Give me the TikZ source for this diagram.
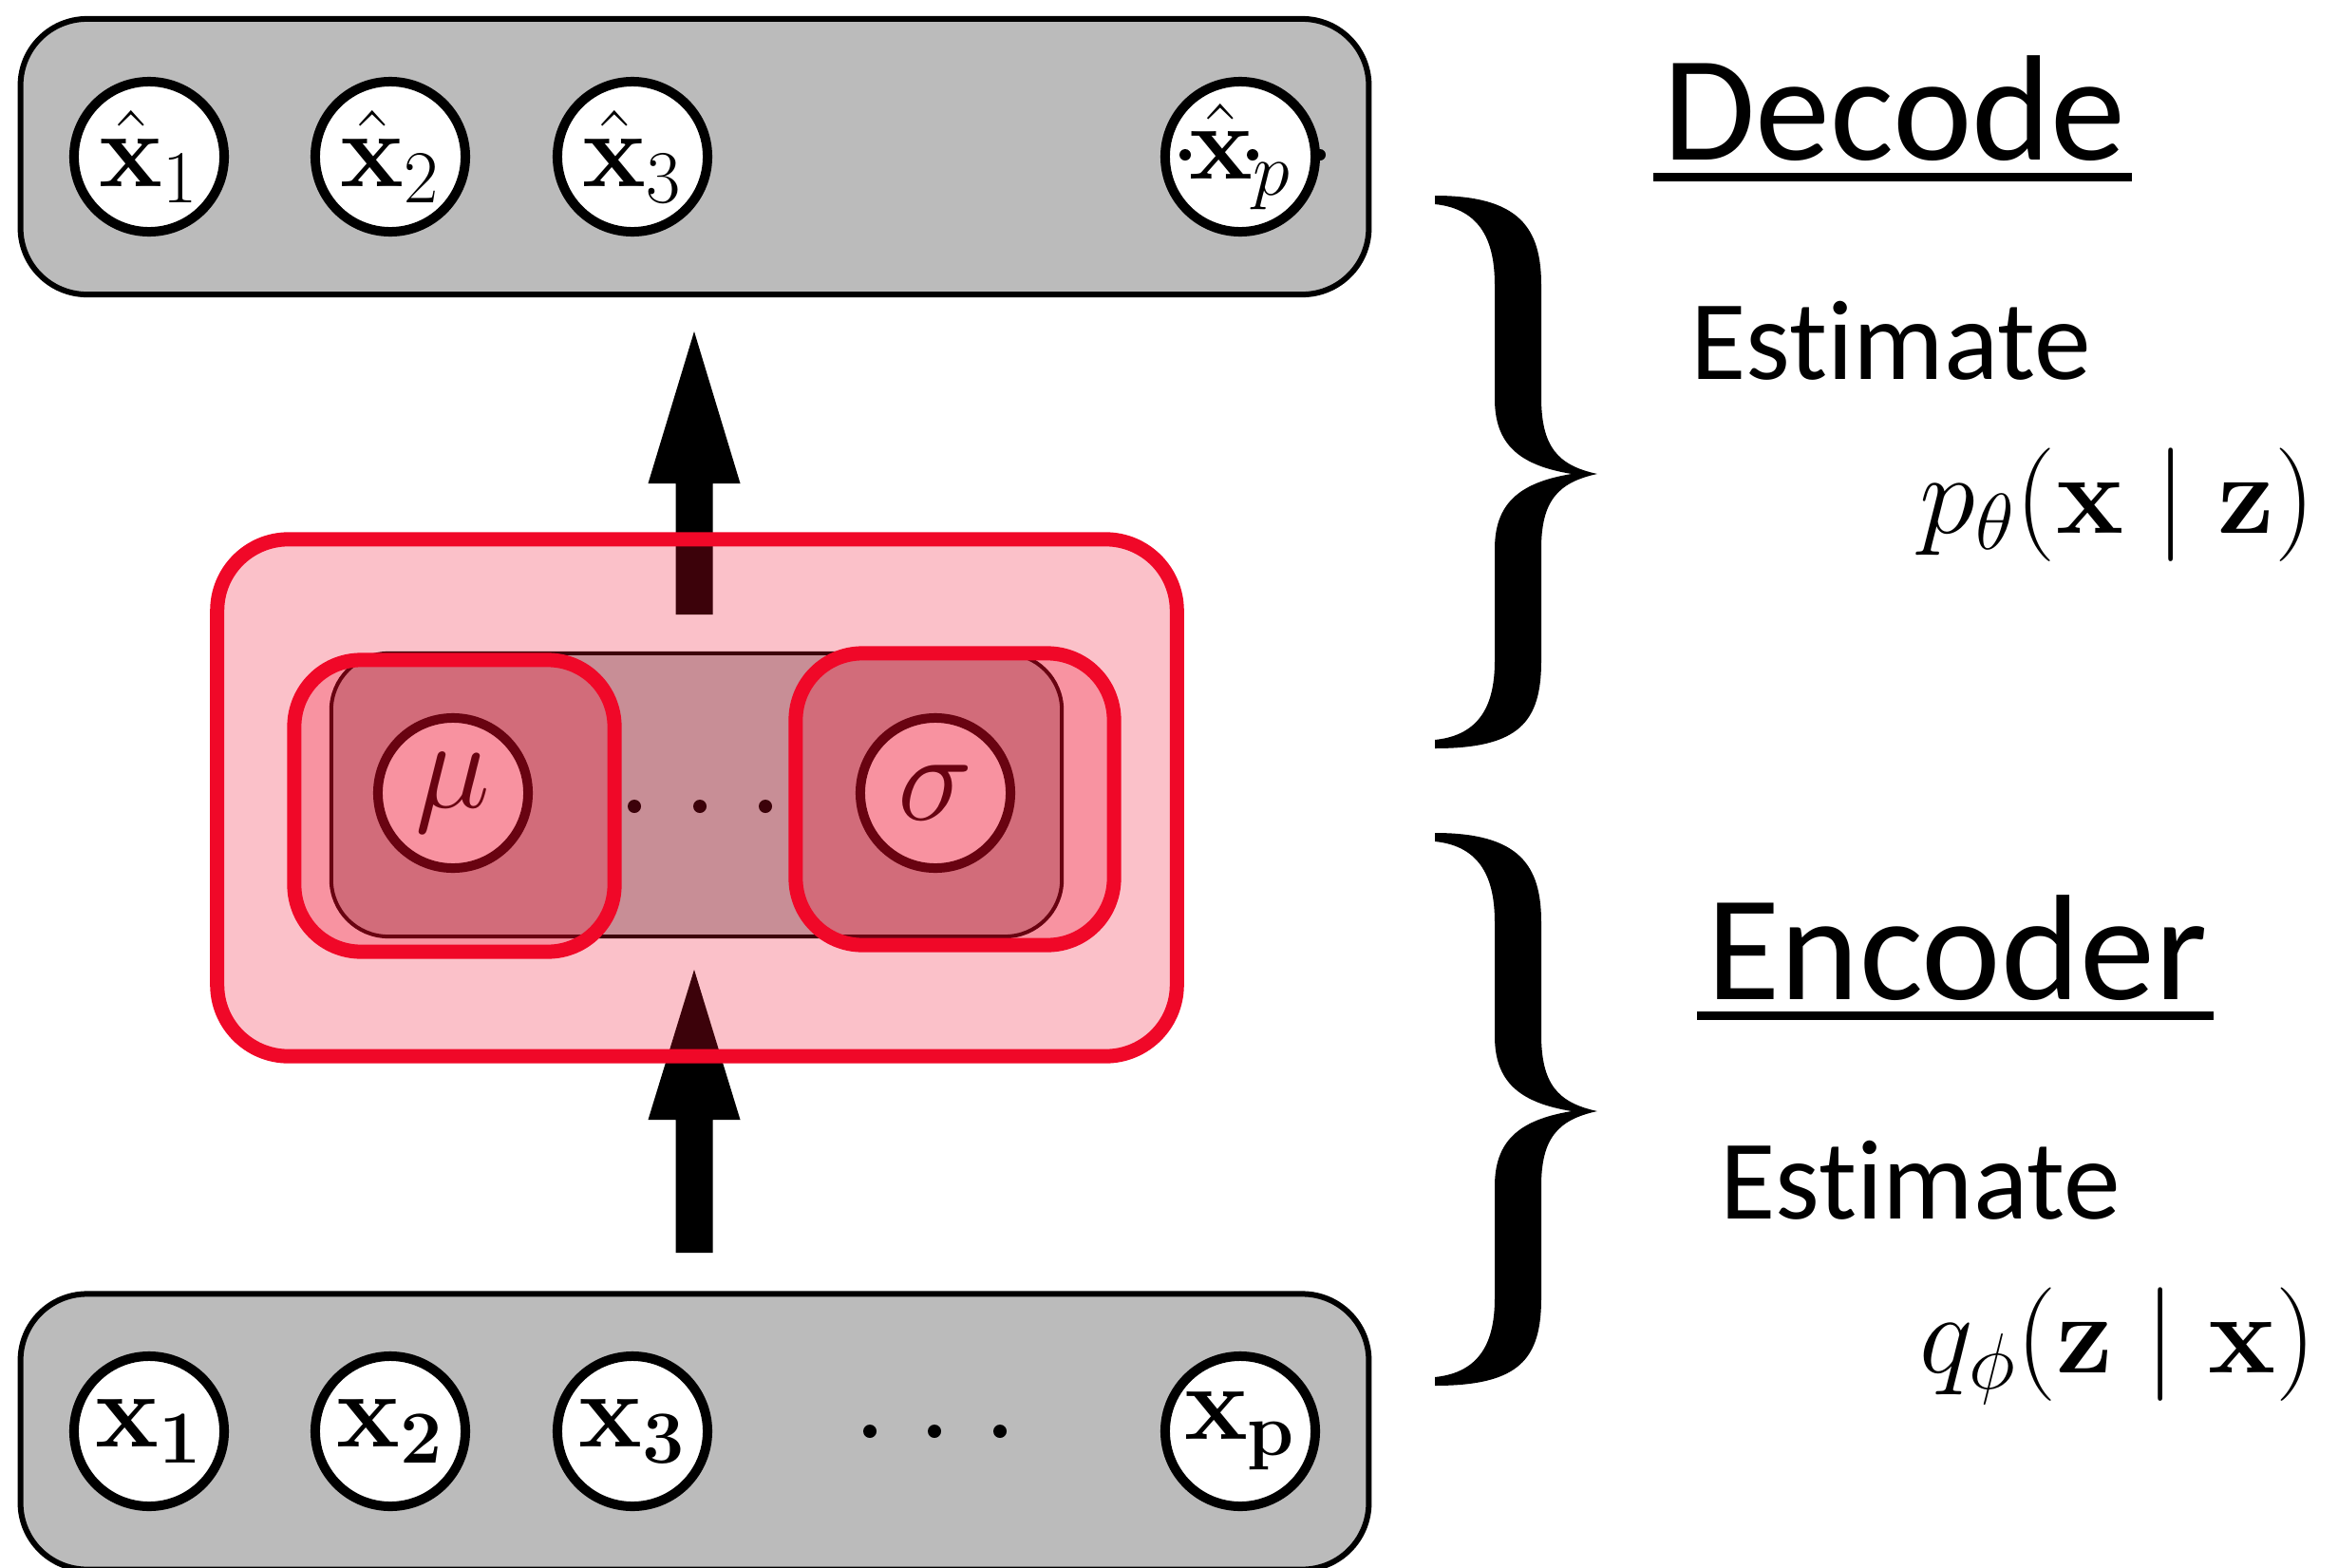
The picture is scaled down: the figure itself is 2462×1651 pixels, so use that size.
\RequirePackage{fix-cm}
\documentclass[tikz,border=0pt]{standalone}
\usepackage[no-math]{fontspec}
\setmainfont{Carlito}[Ligatures={NoCommon,NoRequired,NoContextual}]
\usetikzlibrary{calc}
\definecolor{boxgray}{RGB}{187,187,187}
\definecolor{vred}{RGB}{240,8,40}
\begin{document}
\begin{tikzpicture}[x=0.01cm,y=-0.01cm,
  graybox/.style={draw=black, fill=boxgray, line width=0.06cm, rounded corners=0.7cm, inner sep=0pt},
  unit/.style={circle, draw=black, fill=white, line width=0.1cm, minimum size=1.58cm, inner sep=0pt, font=\fontsize{32}{38}\selectfont},
  latent/.style={circle, draw=black, fill=white, line width=0.1cm, minimum size=1.58cm, inner sep=0pt, font=\fontsize{38}{44}\selectfont},
  redbox/.style={draw=vred, line width=0.15cm, fill=vred, fill opacity=0.25, draw opacity=1, inner sep=0pt},
  dotn/.style={circle, fill=black, inner sep=0pt, minimum size=0.14cm},
  bigtitle/.style={anchor=base, inner sep=0pt, font=\fontsize{45}{54}\selectfont},
  esttext/.style={anchor=base, inner sep=0pt, font=\fontsize{34}{40}\selectfont},
  mathtext/.style={anchor=base, inner sep=0pt, font=\fontsize{34}{40}\selectfont},
  bigbrace/.pic={
    \fill (0,0) .. controls (89,0) and (112,34) .. (112,94) -- (112,212)
      .. controls (112,264) and (129,284) .. (171,293)
      .. controls (129,302) and (112,322) .. (112,372) -- (112,490)
      .. controls (112,554) and (89,582) .. (0,582) -- (0,573)
      .. controls (49,568) and (63,534) .. (63,490) -- (63,372)
      .. controls (63,324) and (89,302) .. (144,293)
      .. controls (89,284) and (63,262) .. (63,214) -- (63,94)
      .. controls (63,49) and (49,14) .. (0,9) -- cycle;
  }
]
\useasboundingbox (0,0) rectangle (2462,1651);

% decoder output layer
\node[graybox, minimum width=14.19cm, minimum height=2.90cm] (dec) at (731.5,165) {};
\node[unit] (o1) at (157,165) {$\hat{\mathbf{x}}_1$};
\node[unit] (o2) at (411,165) {$\hat{\mathbf{x}}_2$};
\node[unit] (o3) at (666,165) {$\hat{\mathbf{x}}_3$};
\node[unit] (op) at (1306,165) {$\hat{\mathbf{x}}_p$};
\node[dotn, minimum size=0.12cm] (od1) at (1248,163) {};
\node[dotn, minimum size=0.12cm] (od2) at (1319,163) {};
\node[dotn, minimum size=0.12cm] (od3) at (1390,163) {};

% encoder input layer
\node[graybox, minimum width=14.19cm, minimum height=2.90cm] (enc) at (731.5,1507.5) {};
\node[unit] (i1) at (157,1507) {$\mathbf{x_1}$};
\node[unit] (i2) at (411,1507) {$\mathbf{x_2}$};
\node[unit] (i3) at (666,1507) {$\mathbf{x_3}$};
\node[unit] (ip) at (1306,1507) {$\mathbf{x_p}$};
\node[dotn] (id1) at (916,1507) {};
\node[dotn] (id2) at (984,1507) {};
\node[dotn] (id3) at (1053,1507) {};

% block arrows
\coordinate (a1s) at (731,647);
\coordinate (a1t) at (731,349);
\coordinate (a2s) at (731,1319);
\coordinate (a2t) at (731,1021);
\fill ($(a1s)+(-19.5,0)$) -- ($(a1t)+(-19.5,160)$) -- ($(a1t)+(-48.5,160)$) -- (a1t)
  -- ($(a1t)+(48.5,160)$) -- ($(a1t)+(19.5,160)$) -- ($(a1s)+(19.5,0)$) -- cycle;
\fill ($(a2s)+(-19.5,0)$) -- ($(a2t)+(-19.5,158)$) -- ($(a2t)+(-48.5,158)$) -- (a2t)
  -- ($(a2t)+(48.5,158)$) -- ($(a2t)+(19.5,158)$) -- ($(a2s)+(19.5,0)$) -- cycle;

% latent layer
\node[graybox, line width=0.04cm, rounded corners=0.6cm, minimum width=7.69cm, minimum height=2.98cm] (lat) at (733.5,837) {};
\node[latent] (mu) at (477,835) {$\mu$};
\node[latent] (sig) at (985,835) {$\sigma$};
\node[dotn] (ld1) at (668,849) {};
\node[dotn] (ld2) at (737,849) {};
\node[dotn] (ld3) at (806,849) {};

% translucent red overlays
\node[redbox, rounded corners=0.75cm, minimum width=10.10cm, minimum height=5.44cm] (zbox) at (734,840) {};
\node[redbox, rounded corners=0.7cm, minimum width=3.37cm, minimum height=3.07cm] (mubox) at (478.5,848.5) {};
\node[redbox, rounded corners=0.7cm, minimum width=3.35cm, minimum height=3.07cm] (sigbox) at (1005.5,841.5) {};

% braces
\pic at (1511,206) {bigbrace};
\pic at (1511,877) {bigbrace};

% right-hand texts
\node[bigtitle] (tdec) at (1995,168) {Decode};
\draw[line width=0.09cm] ($(tdec.base west)+(-10,18)$) -- ($(tdec.base east)+(6,18)$);
\node[esttext] (est1) at (1991,399) {Estimate};
\node[mathtext] (pt) at (2230,561) {$p_{\theta}(\mathbf{x}\mid\mathbf{z})$};

\node[bigtitle] (tenc) at (2061,1052) {Encoder};
\draw[line width=0.09cm] ($(tenc.base west)+(-10,17)$) -- ($(tenc.base east)+(6,17)$);
\node[esttext] (est2) at (2022,1283) {Estimate};
\node[mathtext] (qp) at (2230,1445) {$q_{\phi}(\mathbf{z}\mid\mathbf{x})$};
\end{tikzpicture}
\end{document}
